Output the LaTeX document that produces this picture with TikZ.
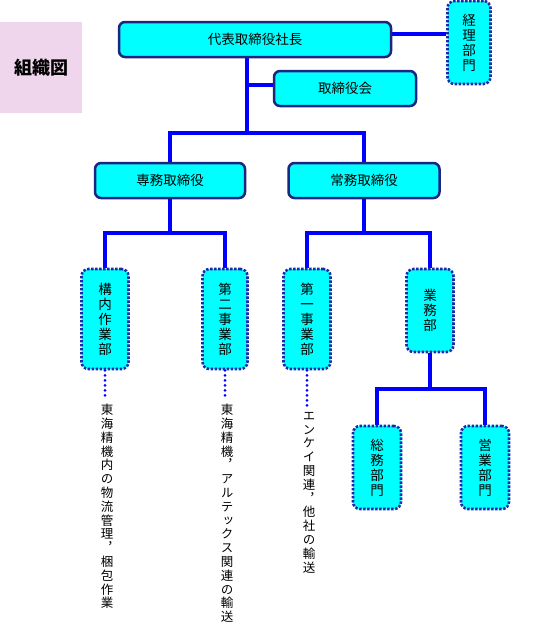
\documentclass[tikz,border=0pt]{standalone}
\usepackage{fontspec}
\setmainfont{Noto Sans CJK JP}
\newfontfamily\jpv[RawFeature=+vert]{Noto Sans CJK JP}
\usetikzlibrary{backgrounds}
\definecolor{navy}{HTML}{1C2580}
\definecolor{dotnavy}{HTML}{1A2AA8}
\definecolor{cyanf}{HTML}{00FFFF}
\definecolor{pinkbg}{HTML}{F0D6EC}
\tikzset{
  solidbox/.style={draw=navy, line width=2.5pt, fill=cyanf, rounded corners=6pt, inner sep=0pt, font=\fontsize{13.5}{15}\selectfont},
  dotbox/.style={draw=dotnavy, line width=2.6pt, dash pattern=on 2.4pt off 1.6pt, fill=cyanf, rounded corners=7pt, inner sep=0pt, align=center, font=\fontsize{13.5}{15}\selectfont},
  conn/.style={draw=blue, line width=3.5pt},
  dotconn/.style={draw=blue, line width=3pt, line cap=round, dash pattern=on 0pt off 5pt},
  vtext/.style={align=center, inner sep=0pt, anchor=north, font=\jpv\fontsize{12.5}{13.8}\selectfont},
}
\begin{document}
\begin{tikzpicture}[x=1pt,y=-1pt]
\useasboundingbox (0,0) rectangle (550,630);
% title
\node[fill=pinkbg, minimum width=82pt, minimum height=91pt, inner sep=0pt, font=\fontsize{18}{20}\selectfont\bfseries] (title) at (41,67.5) {組織図};
% boxes
\node[solidbox, minimum width=272pt, minimum height=35pt] (pres) at (255,39.5) {代表取締役社長};
\node[dotbox, minimum width=43pt, minimum height=83pt] (keiri) at (469,42.5) {経\\理\\部\\門};
\node[solidbox, minimum width=142pt, minimum height=35pt] (torikai) at (345,88.5) {取締役会};
\node[solidbox, minimum width=150pt, minimum height=35pt] (senmu) at (170,180.5) {専務取締役};
\node[solidbox, minimum width=151pt, minimum height=35pt] (joumu) at (364,180.5) {常務取締役};
\node[dotbox, minimum width=47pt, minimum height=100pt] (kounai) at (105,319) {構\\内\\作\\業\\部};
\node[dotbox, minimum width=45pt, minimum height=100pt] (daini) at (225,319) {第\\二\\事\\業\\部};
\node[dotbox, minimum width=47pt, minimum height=100pt] (daiichi) at (307,319) {第\\一\\事\\業\\部};
\node[dotbox, minimum width=47pt, minimum height=83pt] (gyomu) at (430,310.5) {業\\務\\部};
\node[dotbox, minimum width=48pt, minimum height=83pt] (somu) at (377,467.5) {総\\務\\部\\門};
\node[dotbox, minimum width=48pt, minimum height=83pt] (eigyo) at (485,467.5) {営\\業\\部\\門};
% descriptions
\node[vtext] (t1) at (107,404) {東\\海\\精\\機\\内\\の\\物\\流\\管\\理\\，\\梱\\包\\作\\業};
\node[vtext] (t2) at (227,404) {東\\海\\精\\機\\，\\ア\\ル\\テ\\ッ\\ク\\ス\\関\\連\\の\\輸\\送};
\node[vtext] (t3) at (309,412) {エ\\ン\\ケ\\イ\\関\\連\\，\\他\\社\\の\\輸\\送};
\coordinate (j1) at (247,133);
\coordinate (j2) at (170,233);
\coordinate (j3) at (364,233);
\coordinate (j4) at (430,389);
\coordinate (d1) at (105,399);
\coordinate (d2) at (225,399);
\coordinate (d3) at (307,406);
\begin{scope}[on background layer]
\draw[conn] ([yshift=5.5pt]pres.east) -- ([yshift=5.5pt]pres.east -| keiri.west);
\draw[conn] (pres.south -| j1) -- (j1);
\draw[conn] ([yshift=3.5pt]torikai.west -| j1) -- ([yshift=3.5pt]torikai.west);
\draw[conn] (senmu.north) |- (j1) -| (joumu.north);
\draw[conn] (senmu.south) -- (j2);
\draw[conn] (kounai.north) |- (j2) -| (daini.north);
\draw[conn] (joumu.south) -- (j3);
\draw[conn] (daiichi.north) |- (j3) -| (gyomu.north);
\draw[conn] (gyomu.south) -- (j4);
\draw[conn] (somu.north) |- (j4) -| (eigyo.north);
\draw[dotconn] (kounai.south) -- (d1);
\draw[dotconn] (daini.south) -- (d2);
\draw[dotconn] (daiichi.south) -- (d3);
\end{scope}
\end{tikzpicture}
\end{document}
